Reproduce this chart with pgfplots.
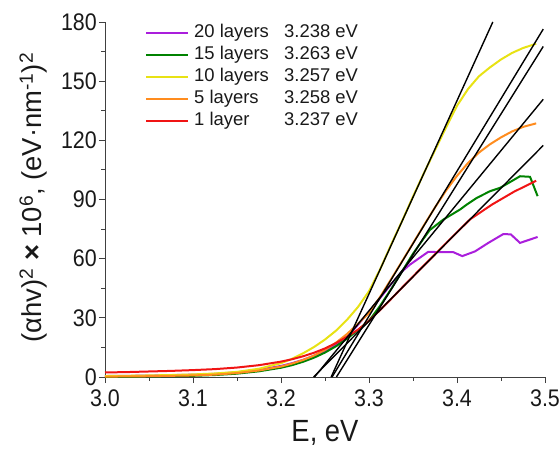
\documentclass[border=0pt]{standalone}
\usepackage{fontspec}
\setmainfont{Liberation Sans}
\usepackage{pgfplots}
\pgfplotsset{compat=1.18}
\definecolor{c20}{RGB}{170,30,220}
\definecolor{c15}{RGB}{0,130,0}
\definecolor{c10}{RGB}{232,226,20}
\definecolor{c5}{RGB}{255,140,30}
\definecolor{c1}{RGB}{240,20,20}
\begin{document}
\begin{tikzpicture}
\begin{axis}[
 name=ax,
 scale only axis, width=440bp, height=355bp,
 xmin=3.0, xmax=3.5, ymin=0, ymax=180,
 axis lines=left,
 axis line style={-, line width=0.9bp, black!75},
 xtick={3.0,3.1,3.2,3.3,3.4,3.5},
 ytick={0,30,60,90,120,150,180},
 minor x tick num=1, minor y tick num=1,
 tick align=outside, major tick length=6bp, minor tick length=3.5bp,
 every tick/.style={black!75, line width=0.9bp},
 /pgf/number format/assume math mode=true,
 xticklabel={\scalebox{1}[1.12]{\pgfmathprintnumber[fixed,fixed zerofill,precision=1]{\tick}}},
 yticklabel={\scalebox{1}[1.12]{\pgfmathprintnumber{\tick}}},
 tick label style={font=\fontsize{21.5}{24}\selectfont, text=black!90, inner sep=2bp},
 xticklabel style={yshift=-4.5bp},
 yticklabel style={inner ysep=0bp},
 xlabel={\scalebox{1}[1.12]{E, eV}},
 ylabel={(αhv)\textsuperscript{2} \textbf{×} 10\textsuperscript{6}, (eV·nm\textsuperscript{-1})\textsuperscript{2}},
 label style={font=\fontsize{27.5}{30}\selectfont, inner sep=0pt, text=black!90},
 xlabel style={at={(axis description cs:0.5,0)}, anchor=base, yshift=-64bp},
 ylabel style={at={(axis description cs:-0.1432,0.505)}, anchor=base},
 legend style={at={(axis description cs:0.0909,1.0)}, anchor=north west, draw=none, fill=none,
   font=\fontsize{18.5}{21}\selectfont, row sep=0pt, inner sep=0pt,
   nodes={inner ysep=2bp, inner xsep=5bp, text height=13.5bp, text depth=4.5bp, text=black!90}},
 legend cell align=left,
 legend image code/.code={\draw[#1] (0bp,0bp) -- (42bp,0bp);},
]
\addplot[c20, line width=2bp] coordinates {
(3.0,0.5) (3.05,0.7) (3.1,1.2) (3.125,1.6) (3.15,2.4) (3.175,3.7) (3.2,5.6) (3.2125,7.0) (3.225,8.7) (3.2375,10.8) (3.25,13.3) (3.2625,16.3) (3.275,20.2) (3.2875,26.5) (3.3,33.0) (3.3125,40.0) (3.325,47.0) (3.3375,53.5) (3.3466,57) (3.3674,63.5) (3.38,63.3) (3.3958,63.3) (3.406,61.3) (3.4205,63.7) (3.4356,68) (3.4527,72.5) (3.4612,72.3) (3.4716,68) (3.4916,71)
};
\addlegendentry{\makebox[90bp][l]{20 layers}3.238 eV}
\addplot[c15, line width=2bp] coordinates {
(3.0,0.1) (3.05,0.3) (3.1,0.6) (3.125,1.0) (3.15,1.7) (3.175,2.9) (3.2,4.7) (3.2125,6.0) (3.225,7.7) (3.2375,9.8) (3.25,12.4) (3.2625,15.6) (3.275,19.4) (3.2875,23.8) (3.3,28.5) (3.3125,36) (3.325,44.5) (3.3375,53.5) (3.35,62.5) (3.3625,70.5) (3.369,74.5) (3.3844,79.8) (3.4034,84.9) (3.411,87.4) (3.4224,90.8) (3.4375,94.2) (3.4489,95.9) (3.464,99.8) (3.4716,101.8) (3.483,101.5) (3.4916,91.7)
};
\addlegendentry{\makebox[90bp][l]{15 layers}3.263 eV}
\addplot[c10, line width=2bp] coordinates {
(3.0,0.5) (3.025,0.6) (3.05,0.8) (3.075,1.0) (3.1,1.3) (3.125,1.8) (3.15,2.6) (3.175,4.2) (3.2,7.0) (3.2125,9.2) (3.225,12.0) (3.2375,15.2) (3.25,19) (3.2625,23.5) (3.275,29) (3.2875,35.5) (3.3,43.5) (3.3125,54.5) (3.325,67) (3.3375,79) (3.35,91.5) (3.3625,103.5) (3.375,115) (3.3875,126.5) (3.4,137.5) (3.4125,146) (3.425,152.5) (3.4375,157) (3.45,161) (3.4625,164.3) (3.475,166.8) (3.49,169)
};
\addlegendentry{\makebox[90bp][l]{10 layers}3.257 eV}
\addplot[c5, line width=2bp] coordinates {
(3.0,0.2) (3.05,0.4) (3.1,0.8) (3.125,1.2) (3.15,2.0) (3.175,3.3) (3.2,5.3) (3.2125,6.8) (3.225,8.6) (3.2375,10.9) (3.25,13.8) (3.2625,17.4) (3.275,21.8) (3.2875,27) (3.3,32.5) (3.3125,40.5) (3.325,49.5) (3.3375,58.6) (3.35,67.8) (3.3625,77) (3.375,86) (3.3875,94.5) (3.4,102) (3.4125,108.5) (3.425,113.8) (3.4375,118) (3.45,121.5) (3.4625,124.5) (3.475,126.8) (3.49,128.6)
};
\addlegendentry{\makebox[90bp][l]{5 layers}3.258 eV}
\addplot[c1, line width=2bp] coordinates {
(3.0,2.3) (3.025,2.5) (3.05,2.8) (3.075,3.1) (3.1,3.5) (3.125,4.0) (3.15,4.8) (3.175,6.0) (3.2,7.8) (3.2125,9.0) (3.225,10.5) (3.2375,12.3) (3.25,14.5) (3.2625,17.2) (3.275,20.4) (3.2875,24) (3.3,28.5) (3.3125,33.9) (3.325,39.5) (3.3375,45.3) (3.35,51) (3.375,62.2) (3.4,73.4) (3.415,80) (3.44,87.5) (3.465,94) (3.49,99.5)
};
\addlegendentry{\makebox[90bp][l]{1 layer}3.237 eV}
\addplot[black, line width=1.4bp, forget plot] coordinates {(3.257,0) (3.4407,180)};
\addplot[black, line width=1.4bp, forget plot] coordinates {(3.258,0) (3.498,176.4)};
\addplot[black, line width=1.4bp, forget plot] coordinates {(3.263,0) (3.498,167.6)};
\addplot[black, line width=1.4bp, forget plot] coordinates {(3.238,0) (3.498,140.8)};
\addplot[black, line width=1.4bp, forget plot] coordinates {(3.237,0) (3.498,117.4)};
\end{axis}
\pgfresetboundingbox
\path[use as bounding box] ([shift={(-105bp,-73bp)}]ax.south west) rectangle ([shift={(14bp,22bp)}]ax.north east);
\end{tikzpicture}
\end{document}
